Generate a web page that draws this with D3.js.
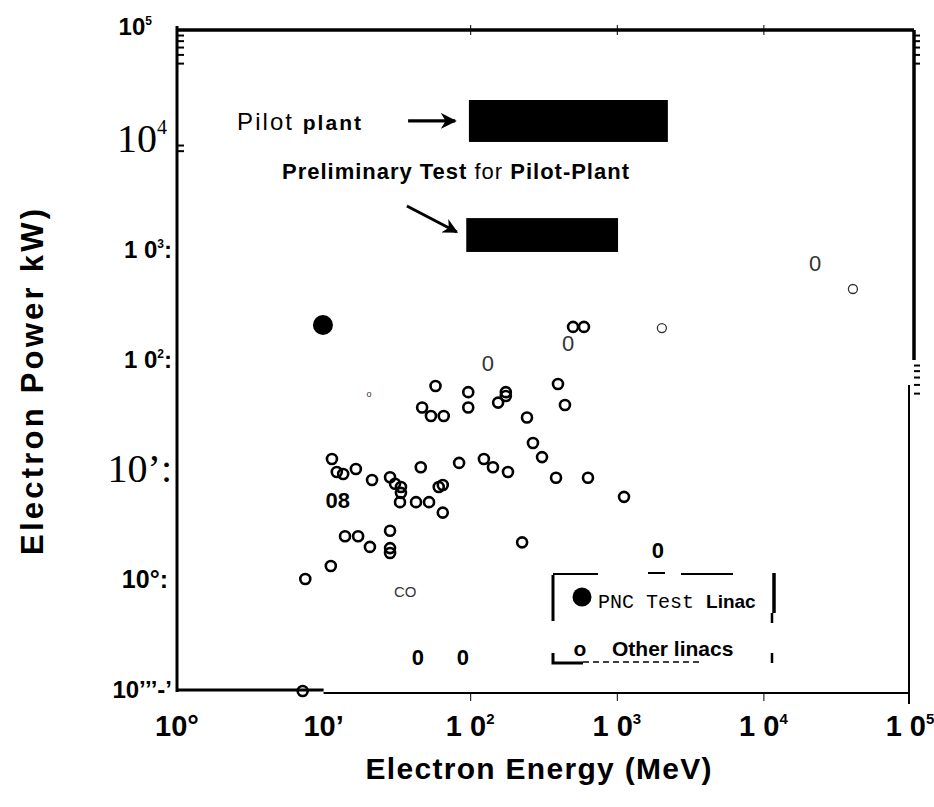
<!DOCTYPE html>
<html>
<head>
<meta charset="utf-8">
<script src="https://cdn.jsdelivr.net/npm/d3@7"></script>
<style>
  body { margin: 0; background: #fff; }
  svg { display: block; }
</style>
</head>
<body>
<div id="chart"></div>
<script>
// linac data (energy in MeV, power in kW)
var otherEnergy = [58, 97, 175, 155, 175, 47, 54, 66, 97, 244, 268, 309,
  11.4, 12.3, 13.6, 16.6, 21.4, 28.4, 30.7, 33.7, 33.7, 33.2, 42.7, 52.4,
  46, 61, 65, 65, 84, 124, 143, 181, 226, 14, 17.2, 20.7, 28.4, 28.4, 28.4,
  11.2, 7.5, 503, 597, 397, 443, 385, 636, 1120, 7.2]
var otherPower = [58, 51, 51, 41, 47, 37, 31, 31, 37, 30, 17.6, 13.1,
  12.6, 9.6, 9.2, 10.2, 8.1, 8.6, 7.5, 7.0, 6.2, 5.1, 5.1, 5.1,
  10.6, 7.0, 7.3, 4.1, 11.6, 12.6, 10.6, 9.6, 2.2, 2.5, 2.5, 2.0, 2.8, 1.95, 1.76,
  1.34, 1.02, 200, 200, 60.5, 39, 8.5, 8.5, 5.7, 0.098]

// faint (thin) circles
var thinEnergy = [2030, 40800]
var thinPower = [195, 442]

// PNC test linac
var pncEnergy = [9.9]
var pncPower = [208]

// points that came out of the scan as characters
var glyphText = ["0", "0", "0", "o", "CO", "08", "0", "0", "0"]
var glyphKind = ["thin", "thin", "thin", "tiny", "small", "bold", "bold", "bold", "bold"]
var glyphEnergy = [132, 465, 22500, 20.4, 36, 12.5, 1910, 44, 89]
var glyphPower = [94, 143, 762, 49, 0.78, 5.3, 1.87, 0.2, 0.2]

// planned machines (energy range, power range)
var pilotEnergy = [98, 2230]
var pilotPower = [9600, 23100]
var prelimEnergy = [94, 1020]
var prelimPower = [960, 1950]

// tick labels as printed
var xTickValues = [1, 10, 100, 1000, 10000, 100000]
var xTickBase = ["10°", "10’", "1 0", "1 0", "1 0", "1 0"]
var xTickSup = ["", "", "2", "3", "4", "5"]
var yTickValues = [0.1, 1, 10, 100, 1000, 10000, 100000]
var yTickBase = ["10’’’-’", "10°:", "10’:", "1 0", "1 0", "10", "10"]
var yTickSup = ["", "", "", "2", "3", "4", "5"]
var yTickTail = ["", "", "", ":", ":", "", ""]
var yTickSerif = [false, false, true, false, false, true, false]

var minorY = [50000, 60000, 70000, 80000, 90000, 8000, 9000, 50, 60, 70, 80, 90]

var width = 934, height = 807
var sans = "'Liberation Sans', Arial, sans-serif"
var serif = "'Liberation Serif', 'Times New Roman', serif"
var mono = "'Liberation Mono', 'Courier New', monospace"

var svg = d3.select("#chart")
    .append("svg")
    .attr("width", width)
    .attr("height", height)

var x = d3.scaleLog()
    .domain([1, 1e5])
    .range([177, 910])

var y = d3.scaleLog()
    .domain([0.1, 1e5])
    .range([690, 30])

var x0 = x.range()[0], x1 = x.range()[1]
var yTop = y.range()[1], yBot = y.range()[0]

// frame, drawn a bit rough like the scan
svg.append("line").attr("x1", x0).attr("x2", x0).attr("y1", yTop - 4).attr("y2", yBot + 2)
    .attr("stroke", "#000").attr("stroke-width", 3)
svg.append("line").attr("x1", x0).attr("x2", x1 + 4).attr("y1", yTop).attr("y2", yTop)
    .attr("stroke", "#000").attr("stroke-width", 3.5)
svg.append("line").attr("x1", x1 + 4).attr("x2", x1 + 4).attr("y1", yTop).attr("y2", y(100))
    .attr("stroke", "#000").attr("stroke-width", 3.5)
svg.append("line").attr("x1", x1 - 1).attr("x2", x1 - 1).attr("y1", y(100) + 25).attr("y2", yBot + 14)
    .attr("stroke", "#000").attr("stroke-width", 2)
svg.append("line").attr("x1", x0).attr("x2", x(10)).attr("y1", yBot).attr("y2", yBot)
    .attr("stroke", "#000").attr("stroke-width", 3)
svg.append("line").attr("x1", x(10)).attr("x2", x1).attr("y1", yBot + 3).attr("y2", yBot + 3)
    .attr("stroke", "#000").attr("stroke-width", 2)

// decade tick marks
svg.append("g")
    .attr("transform", "translate(0," + (yBot + 4) + ")")
    .call(d3.axisBottom(x).tickValues([100, 1000, 10000]).tickSize(7).tickFormat(""))
    .call(g => g.select(".domain").remove())
    .call(g => g.selectAll("line").attr("stroke-width", 1))
svg.append("g")
    .attr("transform", "translate(0," + (yTop + 5) + ")")
    .call(d3.axisTop(x).tickValues([100, 1000, 10000]).tickSize(10).tickFormat(""))
    .call(g => g.select(".domain").remove())
    .call(g => g.selectAll("line").attr("stroke-width", 1))

// minor ticks on both sides
svg.append("g")
    .attr("transform", "translate(" + (x0 + 1) + ",0)")
    .call(d3.axisRight(y).tickValues(minorY.filter(v => v > 1000)).tickSize(6).tickFormat(""))
    .call(g => g.select(".domain").remove())
    .call(g => g.selectAll("line").attr("stroke-width", 2))
svg.append("g")
    .attr("transform", "translate(" + (x1 + 4) + ",0)")
    .call(d3.axisRight(y).tickValues(minorY.filter(v => v > 20000 || v < 1000)).tickSize(6).tickFormat(""))
    .call(g => g.select(".domain").remove())
    .call(g => g.selectAll("line").attr("stroke-width", 2))

// x tick labels
var xl = svg.append("g").selectAll("text")
    .data(xTickValues)
    .join("text")
    .attr("x", d => x(d))
    .attr("y", 736)
    .attr("text-anchor", "middle")
    .style("font-family", sans)
    .style("font-weight", "bold")
    .style("font-size", "29px")
xl.append("tspan").text((d, i) => xTickBase[i])
xl.append("tspan")
    .attr("dy", -12)
    .style("font-size", "15px")
    .text((d, i) => xTickSup[i])

// y tick labels
var yl = svg.append("g").selectAll("text")
    .data(yTickValues)
    .join("text")
    .attr("x", 172)
    .attr("y", (d, i) => y(d) + (yTickSerif[i] ? 12 : 8))
    .attr("text-anchor", "end")
    .style("font-family", (d, i) => yTickSerif[i] ? serif : sans)
    .style("font-weight", (d, i) => yTickSerif[i] ? "normal" : "bold")
    .style("font-size", (d, i) => yTickSerif[i] ? "40px" : "24px")
yl.append("tspan").text((d, i) => yTickBase[i])
yl.append("tspan")
    .attr("dy", (d, i) => yTickSerif[i] ? -18 : -10)
    .style("font-size", (d, i) => yTickSerif[i] ? "20px" : "12px")
    .text((d, i) => yTickSup[i])
yl.append("tspan")
    .attr("dy", (d, i) => yTickSerif[i] ? 18 : 10)
    .text((d, i) => yTickTail[i])
yl.filter((d, i) => i == 6).attr("x", 152).attr("y", y(1e5) + 5)
yl.filter((d, i) => i == 5).attr("x", 167)
yl.filter((d, i) => i == 1).attr("x", 168).style("font-size", "25px")

// axis titles
svg.append("text")
    .attr("x", (x0 + x1) / 2 - 5)
    .attr("y", 779)
    .attr("text-anchor", "middle")
    .attr("textLength", 346)
    .style("font-family", sans)
    .style("font-weight", "bold")
    .style("font-size", "30px")
    .text("Electron  Energy  (MeV)")

svg.append("text")
    .attr("transform", "translate(43,382) rotate(-90)")
    .attr("text-anchor", "middle")
    .attr("textLength", 346)
    .style("font-family", sans)
    .style("font-weight", "bold")
    .style("font-size", "31px")
    .text("Electron  Power  kW)")

// planned machines
svg.append("rect")
    .attr("x", x(pilotEnergy[0]))
    .attr("y", y(pilotPower[1]))
    .attr("width", x(pilotEnergy[1]) - x(pilotEnergy[0]))
    .attr("height", y(pilotPower[0]) - y(pilotPower[1]))
    .attr("fill", "#000")
svg.append("rect")
    .attr("x", x(prelimEnergy[0]))
    .attr("y", y(prelimPower[1]))
    .attr("width", x(prelimEnergy[1]) - x(prelimEnergy[0]))
    .attr("height", y(prelimPower[0]) - y(prelimPower[1]))
    .attr("fill", "#000")

// annotations
svg.append("defs").append("marker")
    .attr("id", "head")
    .attr("viewBox", "0 0 10 10")
    .attr("refX", 9).attr("refY", 5)
    .attr("markerWidth", 5).attr("markerHeight", 5)
    .attr("orient", "auto")
    .append("path")
    .attr("d", "M0,0 L10,5 L0,10 L3,5 Z")
    .attr("fill", "#000")

svg.append("line")
    .attr("x1", x(37.7)).attr("y1", y(14900))
    .attr("x2", x(79)).attr("y2", y(14900))
    .attr("stroke", "#000").attr("stroke-width", 3.2)
    .attr("marker-end", "url(#head)")
svg.append("line")
    .attr("x1", x(37)).attr("y1", y(2510))
    .attr("x2", x(81)).attr("y2", y(1458))
    .attr("stroke", "#000").attr("stroke-width", 3)
    .attr("marker-end", "url(#head)")

var pilotLabel = svg.append("text")
    .attr("x", x(2.57))
    .attr("y", y(12300))
    .attr("textLength", 124)
    .style("font-family", sans)
    .style("font-size", "24px")
pilotLabel.append("tspan").text("Pilot ")
pilotLabel.append("tspan").style("font-weight", "bold").style("font-size", "21px").text("plant")

var prelimLabel = svg.append("text")
    .attr("x", x(5.2))
    .attr("y", y(4400))
    .attr("textLength", 347)
    .style("font-family", sans)
    .style("font-size", "22px")
prelimLabel.append("tspan").style("font-weight", "bold").text("Preliminary Test")
prelimLabel.append("tspan").text(" for ")
prelimLabel.append("tspan").style("font-weight", "bold").text("Pilot-Plant")

// other linacs
svg.append("g").selectAll("circle")
    .data(otherEnergy)
    .join("circle")
    .attr("cx", d => x(d))
    .attr("cy", (d, i) => y(otherPower[i]))
    .attr("r", 5)
    .attr("fill", "none")
    .attr("stroke", "#000")
    .attr("stroke-width", 2.6)

svg.append("g").selectAll("circle")
    .data(thinEnergy)
    .join("circle")
    .attr("cx", d => x(d))
    .attr("cy", (d, i) => y(thinPower[i]))
    .attr("r", 4.5)
    .attr("fill", "none")
    .attr("stroke", "#333")
    .attr("stroke-width", 1.3)

svg.append("g").selectAll("circle")
    .data(pncEnergy)
    .join("circle")
    .attr("cx", d => x(d))
    .attr("cy", (d, i) => y(pncPower[i]))
    .attr("r", 10)
    .attr("fill", "#000")

var glyphStyle = {
  thin: { size: "22px", weight: "normal", color: "#333" },
  tiny: { size: "9px", weight: "normal", color: "#333" },
  small: { size: "15px", weight: "normal", color: "#333" },
  bold: { size: "22px", weight: "bold", color: "#000" }
}
svg.append("g").selectAll("text")
    .data(glyphText)
    .join("text")
    .attr("x", (d, i) => x(glyphEnergy[i]))
    .attr("y", (d, i) => y(glyphPower[i]))
    .attr("dy", "0.36em")
    .attr("text-anchor", "middle")
    .style("font-family", sans)
    .style("font-size", (d, i) => glyphStyle[glyphKind[i]].size)
    .style("font-weight", (d, i) => glyphStyle[glyphKind[i]].weight)
    .style("fill", (d, i) => glyphStyle[glyphKind[i]].color)
    .text(d => d)

// legend
var lg = svg.append("g").attr("transform", "translate(553,573)")
lg.append("path").attr("d", "M0,2 V48 M0,80 V90 H30").attr("stroke", "#000").attr("stroke-width", 3).attr("fill", "none")
lg.append("path").attr("d", "M0,1 H45 M95,0 H112 M128,1 H180").attr("stroke", "#000").attr("stroke-width", 2).attr("fill", "none")
lg.append("path").attr("d", "M30,89 H150").attr("stroke", "#000").attr("stroke-width", 1.5)
    .attr("stroke-dasharray", "6,4").attr("fill", "none")
lg.append("path").attr("d", "M221,0 V40").attr("stroke", "#000").attr("stroke-width", 3.5).attr("fill", "none")
lg.append("path").attr("d", "M219,40 V50 M219,80 V90").attr("stroke", "#000").attr("stroke-width", 2.5).attr("fill", "none")
lg.append("circle").attr("cx", 29).attr("cy", 24).attr("r", 9.5).attr("fill", "#000")
var l1 = lg.append("text").attr("x", 45).attr("y", 35).style("font-size", "20px")
l1.append("tspan").style("font-family", mono).text("PNC Test ")
l1.append("tspan").style("font-family", sans).style("font-weight", "bold").style("font-size", "19px").text("Linac")
lg.append("text").attr("x", 27).attr("y", 83).attr("text-anchor", "middle")
    .style("font-family", sans).style("font-weight", "bold").style("font-size", "21px").text("o")
lg.append("text").attr("x", 59).attr("y", 83)
    .style("font-family", sans).style("font-weight", "bold").style("font-size", "21px").text("Other  linacs")
</script>
</body>
</html>
